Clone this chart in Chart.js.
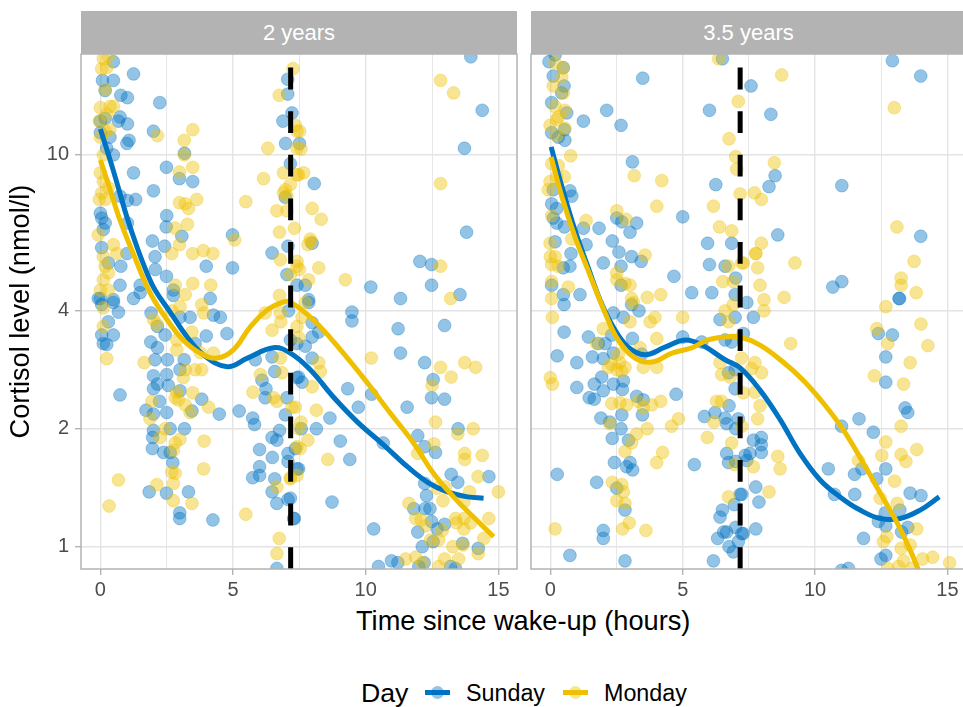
<!DOCTYPE html>
<html>
<head>
<meta charset="utf-8">
<title>Cortisol level</title>
<script src="https://cdn.jsdelivr.net/npm/chart.js@4"></script>
<style>
  html, body { margin: 0; padding: 0; background: #fff; width: 963px; height: 707px; overflow: hidden; }
  body { position: relative; font-family: "Liberation Sans", Arial, sans-serif; }
  canvas { position: absolute; top: 0; }
  .strip { position: absolute; top: 11px; height: 43px; line-height: 44px; background: #b3b3b3; color: #fff; font-size: 22px; text-align: center; }
  .txt { position: absolute; white-space: nowrap; color: #000; }
  .key-line { position: absolute; top: 690px; width: 25px; height: 5px; }
  .key-dot { position: absolute; top: 686px; width: 13px; height: 13px; border-radius: 50%; }
</style>
</head>
<body>
<canvas id="facet1" style="left:0"></canvas>
<canvas id="facet2" style="left:527px"></canvas>
<div class="strip" style="left:81px;width:436px">2 years</div>
<div class="strip" style="left:531px;width:435px">3.5 years</div>
<div class="txt" style="left:356px;top:605px;font-size:27.2px">Time since wake-up (hours)</div>
<div class="txt" style="left:361px;top:678px;font-size:26.7px">Day</div>
<div class="key-line" style="left:425px;background:#0073C2"></div>
<div class="key-dot" style="left:431px;background:rgba(0,115,194,.42)"></div>
<div class="txt" style="left:466px;top:680px;font-size:23.3px">Sunday</div>
<div class="key-line" style="left:563px;background:#EFC000"></div>
<div class="key-dot" style="left:569px;background:rgba(239,192,0,.42)"></div>
<div class="txt" style="left:604px;top:680px;font-size:23.3px">Monday</div>

<script>
// values: [hours since wake-up, cortisol nmol/l]
const yTicks = [1, 2, 4, 10];
const wakeMark = 7.17;

const sunday2y = [[.49,17.3],[1.25,16.1],[.08,15.5],[.49,15.5],[.18,14.6],[.77,14.2],[1.02,14],[2.24,13.6],[.18,12.4],[0,12.2],[.74,12.5],[.68,12.2],[1.02,12],[0,11.4],[2,11.5],[1.08,10.9],[1,10.7],[.36,11.1],[.49,10],[.24,10.4],[1.25,9],[2.49,9.3],[3.17,10.1],[2.98,8.7],[3.48,8.55],[2,8.1],[1.33,7.7],[1.02,7.65],[.74,7.85],[2.5,7],[2.48,6.55],[3.07,6.2],[0,7.1],[.05,6.9],[.11,6.45],[.18,6.7],[1.02,6.7],[1.96,6.03],[2.42,5.85],[4.98,6.25],[6.47,5.62],[7.07,5.85],[1,5.6],[2.06,5.5],[.77,5.2],[.3,5.3],[2.07,5.1],[2.49,4.9],[3.99,5.2],[4.98,5.15],[.05,5.8],[.74,4.65],[1.5,4.65],[1.5,4.45],[1.25,4.3],[0,4.3],[.49,4.27],[2.75,4.52],[2.75,4.38],[4.14,4.3],[7.06,15.6],[7.06,14.3],[7.22,12.8],[6.88,12.2],[6.98,10.7],[7.16,9.5],[6.97,7.8],[7.5,10.7],[7.03,4.95],[7.41,4.65],
  [13.96,17.8],[14.39,13],[13.72,10.4],[8.06,8.45],[13.8,6.35],[7.98,5.95],[12.04,5.35],[12.48,5.25],[10.19,4.6],[12.48,4.65],[11.31,4.3],[13.55,4.4],[7.72,4.65],[7.85,4.27],
  [-.08,4.3],[.05,4.15],[.49,4.2],[.68,3.97],[.3,3.75],[.49,3.47],[.05,3.47],[.24,3.28],[.11,3.3],[.74,2.44],[1.91,3.95],[2.15,3.65],[2.44,3.47],[1.9,3.33],[2.15,3.22],[2.06,3],[2.53,3],[3.16,3],[3.57,3.3],[3,2.83],[2,2.73],[2.5,2.75],[2.56,2.58],[2,2.53],[2.15,2.6],[2.23,2.35],[3,2.5],[3.82,2.38],[3.45,2.22],[4.48,2.18],[2.5,2.2],[1.72,2.23],[2,2.18],[2,1.98],[1.97,1.9],[2.63,2],[3.17,2],[1.96,1.78],[2.38,1.74],[2.63,1.74],[2.73,1.64],[1.84,1.38],[2.49,1.37],[3.32,1.38],[2.99,1.22],[2.99,1.18],[4.24,1.17],[3,3.85],[3.38,3.85],[4.26,3.9],[4.52,3.85],[4.77,3.5],[3.99,3.45],[5.84,3],[6.47,3.05],[6.57,2.8],[6.09,2.66],[6.24,2.53],[6.21,2.4],[5.23,2.22],[5.74,2.13],[5.81,2.05],[6.47,1.9],[6.65,1.87],[6,1.77],[6.48,1.69],[7.07,1.73],[7.07,1.65],[6,1.6],[5.74,1.5],[6,1.52],[6.57,1.49],[6.47,1.38],[6.65,1.29],[7.07,1.32],[7.31,1.18],[6.65,.88],[7.03,2.4],[6.97,2.17],[7.41,2.7],[7.41,1.58],[7.09,4],[7.16,3.37],[7.4,3.3],[6.75,1.98],
  [9.48,3.97],[9.48,3.77],[11.22,3.6],[12.97,3.67],[11.31,3.12],[12.22,2.95],[12.54,2.67],[12.48,2.4],[12.97,2.38],[9.32,2.53],[9.72,2.27],[10.22,2.45],[11.56,2.27],[8.65,2.13],[8.14,2],[7.57,2],[9.04,1.86],[9.4,1.67],[10.66,1.84],[11.96,1.92],[13.48,2],[12.22,1.8],[12.63,1.74],[13.22,1.53],[13.47,1.46],[14.64,1.51],[12.22,1.45],[12.29,1.35],[12.23,1.25],[12.42,1.25],[11.81,1.25],[8.73,1.3],[10.3,1.11],[12.48,1.16],[12.97,1.14],[11.96,1.09],[12.69,1.11],[12.13,1],[12.54,1.03],[13.65,1.02],[14.24,.99],[10.48,.89],[10.97,.92],[11.21,.91],[12.2,.91],[12,.89],[13.2,.89],[13.38,.88],[7.98,3.03],[7.98,3.43],[8.23,3.53],[7.98,3.73],[7.85,4.2],[7.47,2.71],[7.6,2.63],[7.72,3.25],[7.47,1.58],[7.35,1.78],[7.16,1.33],[7.28,1.18]];

const monday2y = [[.11,17.6],[.3,17.8],[.05,16.6],[.24,16.7],[.18,14.7],[0,13.2],[.36,13.3],[.49,13.3],[-.04,12.2],[.24,12.7],[.36,11.6],[0,11.1],[.18,11.5],[2.15,11.2],[3.16,10.9],[3.48,11.6],[3.16,10],[.11,10],[2.98,9.05],[3.48,9.3],[0,9],[.11,8.55],[.05,8],[.3,8.25],[.18,7.7],[-.04,7.7],[2.98,7.55],[3.2,7.5],[3.63,7.7],[3.32,7.3],[5.48,7.6],[6.15,8.7],[6.31,10.4],[6.74,14.2],[7.26,16.6],[6.65,7.2],[7.03,7.2],[7.31,6.5],[6.75,6.35],[6.9,9],[7.41,8.9],[7.16,8.4],[6.97,8.15],[7.03,7.85],[6.9,8],[7.35,11.9],[7.41,11.5],[7.41,10.4],[3.28,6.65],[2.82,6.5],[2.98,5.9],[2.69,5.6],[3.48,5.6],[3.88,5.7],[4.24,5.6],[5.06,6.07],[6.78,5.4],[7.41,5.35],[-.08,6.25],[.49,5.9],[.62,5.6],[.11,5.5],[.18,5.2],[.3,5],[.11,4.8],[0,4.52],[.3,4.52],[3.48,4.7],[4.16,4.65],[2.82,4.65],[3.2,4.4],[7.16,4.95],[6.75,4.38],[7.41,5.2],
  [12.82,15.5],[13.31,14.4],[7.51,11.5],[7.56,10.35],[12.82,8.45],[7.66,9],[7.47,8.9],[7.98,7.3],[8.32,6.85],[7.91,6.1],[7.94,6],[7.82,5.9],[12.82,5.2],[8.23,5.15],[9.23,4.8],[7.85,4.8],[7.5,5.1],[13.2,4.3],
  [12.5,2.58],[10.21,3.03],[12.82,2.87],[13.22,2.71],[13.73,2.95],[14.14,2.87],[12.63,2.08],[13.47,1.94],[14.05,2],[12.57,1.83],[13.73,1.73],[13.73,1.67],[14.39,1.71],[11.96,1.73],[14.23,1.51],[15,1.38],[12.69,1.41],[13,1.42],[13.91,1.38],[12.91,1.31],[13.7,1.3],[11.63,1.29],[11.88,1.18],[12.09,1.17],[12.25,1.13],[13.38,1.18],[13.42,1.15],[13.7,1.18],[13.7,1.11],[13.95,1.15],[14.64,1.18],[12.88,1.1],[14.45,1.05],[12.44,1.04],[12.75,1.04],[13.28,1],[13.67,1.01],[14.24,.96],[13.5,.93],[11.5,.93],[11.88,.94],[12.13,.91],[12.75,.89],[12.97,.93],[7.82,1.87],[8.14,2.23],[7.56,2.08],[8.57,1.67],[7.53,1.78],[7.98,2.56],[8.29,2.8],[8.23,2.95],[7.41,3.65],[7.6,3.85],[7.72,4.2],[7.47,3.42],[7.35,2.27],[7.41,1.52],[7.16,1.5],
  [.11,3.65],[.11,4.07],[.24,3.02],[1.65,2.95],[2.13,3.7],[2,3.8],[2.69,4],[3,4.1],[2.88,3.37],[3.45,3.53],[3.82,4.15],[3.89,3.95],[4.26,3.12],[3.76,3.13],[3.82,2.83],[3.57,2.83],[3.13,2.7],[2.88,3.18],[3.2,2.83],[2.88,2.48],[2.82,2.4],[2.94,2.37],[3.48,2.47],[3.2,2.3],[1.94,2.35],[3.38,2.2],[4.08,2.27],[1.87,2.12],[2.44,2],[2.25,1.9],[3,1.88],[2.82,1.84],[2.75,1.76],[3.91,1.86],[3.89,1.58],[2.69,1.55],[2.82,1.54],[2.75,1.45],[.68,1.48],[2.13,1.44],[2.75,1.31],[3.45,1.29],[.33,1.27],[5.48,1.21],[6.74,1.05],[6.65,.96],[6.21,3.95],[6.47,3.57],[6.78,3.95],[6.8,3.75],[6.78,3.03],[6.03,2.75],[5.75,2.48],[6.53,2.4],[6.65,2.35],[6.84,2.78],[7.22,2.27],[7.47,2],[7.16,1.49],[6.65,1.42],[7.41,1.8]];

const sunday35y = [[.18,18],[-.05,17.3],[.49,16.7],[.11,15.9],[.52,15],[.43,14.4],[3.49,15.7],[6.5,17.6],[.05,13.6],[2.13,13],[6.01,13],[.62,12.8],[1.25,12.2],[2.67,11.9],[.05,11.4],[.53,11.6],[.55,10.9],[.3,11.1],[3.1,9.6],[6.25,8.4],[.74,8.1],[.11,8.15],[.81,7.85],[.05,7.5],[.24,7.3],[.24,6.7],[.11,6.9],[5,6.95],[.53,6.55],[1.25,6.5],[1.84,6.5],[2.51,6.9],[2.7,6.75],[3.26,6.7],[3.01,6.35],[2.34,6.03],[1.35,5.9],[.18,6],[5.94,5.95],[6.85,5.95],[.78,5.6],[2.59,5.65],[3.07,5.5],[3.43,5.35],[2,5.3],[2.67,5.2],[.74,5.2],[.49,5.15],[6.01,5.25],[6.6,5.2],[4.67,4.9],[7,4.85],[1.12,4.4],[2.67,4.65],[5.34,4.45],[6.1,4.45],[.49,4.4],[.05,4.65],[6.98,4.4],
  [7.58,15],[8.33,12.7],[12.92,17.4],[13.99,15.9],[8.49,8.85],[8.26,8.3],[11.01,8.35],[8.59,6.25],[13.99,6.2],[10.67,4.6],[11.01,4.75],[13.17,4.3],
  [.52,4.15],[.52,3.53],[.26,3.07],[1,2.95],[1.44,3.43],[1.59,3.05],[2.07,3.3],[1.81,3.3],[2,3.02],[2.38,3.95],[2.76,3.85],[2.32,3.47],[3.1,3.4],[2.38,3.12],[3.45,3.1],[3.35,4],[3.07,4.15],[1,2.55],[1.66,2.6],[1.94,2.71],[2,2.5],[2.38,2.6],[2.72,2.52],[2.76,2.65],[1.47,2.4],[1.66,2.38],[3.26,2.42],[3.51,2.37],[3.48,2.17],[1.91,2.13],[2.7,2.17],[2.67,2],[2.25,2.08],[2.34,1.89],[2.95,1.87],[2.42,1.64],[3.01,1.64],[2.88,1.6],[3.11,1.57],[.26,1.53],[1.75,1.46],[2.51,1.41],[2.82,1.24],[2,1.1],[2,1.05],[.74,.95],[2.82,.92],[5,3.43],[5.72,3.33],[4.75,2.45],[5.44,1.62],[5.82,2.15],[6.22,2.2],[6.75,2.29],[6.6,2.13],[6.66,2.06],[7.1,2.12],[7,2],[6.98,2.53],[6.73,2.78],[6.98,2.83],[6.41,3.8],[6.98,3.85],[6.6,3.37],[6.85,3.33],[6.66,1.73],[6.73,1.64],[7,1.65],[7.17,1.36],[6.95,1.28],[6.5,1.24],[6.41,1.19],[6.66,1.09],[6.55,1.09],[6.32,1.05],[7,1.12],[7.23,1.08],[7.1,1.03],[6.75,1],[6.91,.97],[6.16,.92],[7.36,1.71],
  [7.42,4.2],[7.67,3.85],[7.29,3.5],[13.19,4.3],[12.39,3.5],[12.92,3.47],[12.67,3.05],[12.67,2.63],[13.4,2.26],[13.5,2.2],[11.66,2.12],[12.2,1.96],[11,2.03],[7.67,1.87],[7.97,1.9],[7.97,1.82],[7.97,1.74],[7.54,1.73],[7.42,1.66],[12.67,1.58],[10.5,1.58],[11.49,1.53],[11.77,1.58],[12.33,1.49],[13.59,1.37],[14,1.35],[10.73,1.36],[11.5,1.36],[7.76,1.42],[7.88,1.3],[7.23,1.36],[12.65,1.22],[13.2,1.24],[12.39,1.16],[12.67,1.13],[13.5,1.12],[13.27,1.09],[7.76,1.11],[7.29,1.08],[11.83,1.05],[12.49,.93],[12.67,.95],[11.26,.88],[11,.87]];

const monday35y = [[6.35,17.6],[.18,17.2],[.49,16.7],[.11,15],[.43,15.8],[.49,14.4],[.18,13.3],[.55,13],[.24,12.3],[-.01,11.9],[.3,12.5],[.55,11.7],[.24,11.2],[7.1,13.7],[6.75,11],[.77,9.95],[7,9.9],[7.04,9.2],[.05,9.5],[.3,9.4],[.53,8.8],[3.17,8.85],[4.21,8.6],[.24,8.8],[-.01,8.55],[-.08,8.15],[7.17,7.95],[4.02,7.4],[6.16,7.4],[2.51,7.2],[2.86,6.85],[1.35,6.8],[.05,7],[6.39,6.55],[6.85,6.4],[.81,6.1],[-.01,5.95],[3.58,5.55],[0,5.5],[.05,5.25],[.18,5.5],[.3,5.2],[6.73,5.2],[7.23,5.3],[2.51,5],[2.51,4.8],[3.01,4.65],[2.82,4.7],[.68,4.6],[.05,4.75],[.05,4.3],[3.66,4.33],[4.17,4.4],[3.07,4.3],[6.51,4.75],[6.91,4.75],
  [8.74,16],[12.99,13.2],[8.46,9.55],[7.71,8],[7.97,7.7],[13.09,6.55],[7.97,5.95],[7.76,5.6],[7.76,5.6],[9.24,5.3],[7.29,5.3],[7.83,5.15],[13.74,5.35],[13.25,4.85],[13.25,4.65],[13.82,4.45],[7.92,4.65],[8.83,4.33],[8.07,4.27],
  [8.07,4],[12.67,4.1],[14,3.7],[12.33,3.6],[12.75,3.3],[14.26,3.26],[9.08,3.3],[13.59,2.95],[12.24,2.73],[13.34,2.6],[7.73,2.95],[7.6,2.85],[7.98,2.78],[7.23,3.03],[7.29,2.47],[7.73,2.48],[7.92,2.29],[7.83,2.12],[7.23,2.03],[13.25,2.03],[12.67,1.85],[12.52,1.71],[13.25,1.72],[13.84,1.77],[13.43,1.65],[8.59,1.7],[8.68,1.58],[11.64,1.66],[7.67,1.6],[13,1.47],[8.26,1.38],[12.46,1.33],[13.1,1.29],[13.84,1.11],[12.71,1.06],[12.58,1.03],[13.25,.99],[13.59,1.01],[14.06,.93],[14.44,.94],[13.34,.92],[15.08,.91],[12.75,.88],[13.15,.89],[13.65,.88],
  [.08,3.85],[0,2.7],[.08,2.6],[5,3.85],[3.95,3.85],[3.77,3.75],[3.01,3.75],[3.14,4.2],[2,3.6],[4.02,3.4],[3.39,3.22],[4.02,2.87],[3.51,2.87],[2.57,3.1],[2.32,2.92],[2.62,2.95],[2.82,2.87],[2.51,2.83],[2.7,2.8],[2.19,2.87],[1.75,3.3],[2.32,2.32],[2.63,2.33],[2.88,2.3],[3.32,2.35],[3.51,2.26],[3.83,2.3],[4.17,2.35],[4.84,2.12],[4.58,2.03],[3.66,2],[2.25,2.06],[3.26,1.94],[3.07,1.84],[2.82,1.75],[4.24,1.74],[4.02,1.64],[5.93,1.9],[6.18,2.08],[6.28,2.35],[6.47,2.35],[6.85,1.84],[6.95,1.62],[6.41,2.95],[6.47,2.75],[6.79,2.71],[6.73,1.34],[.18,1.11],[2.34,1.46],[2.7,1.44],[2.76,1.38],[2.51,1.31],[2.82,1.29],[2.98,1.15],[2.73,1.11],[3.61,1.1],[6.6,4],[6.91,4.15],[6.73,3.75]];

// smooth trend lines, read at intervals along each curve
const sunday2yLineH = [0,.48,1,1.38,1.76,2.06,2.63,3.27,3.88,4.78,5.54,6.52,7.16,7.91,8.78,9.69,10.67,11.57,12.33,13.08,13.84,14.44];
const sunday2yLineV = [11.65,9.16,6.94,5.82,4.99,4.52,3.97,3.43,3.09,2.88,3.03,3.22,3.12,2.83,2.41,2.08,1.82,1.6,1.46,1.38,1.34,1.33];
const monday2yLineH = [0,.37,.74,1.23,1.88,2.52,3.12,3.76,4.4,5.01,5.65,6.29,6.89,7.16,8.03,9.05,10.06,10.93,11.8,12.55,13.31,14.06,14.82];
const monday2yLineV = [9.71,8.14,6.82,5.62,4.44,3.79,3.37,3.12,3.03,3.18,3.64,4.02,4.21,4.21,3.79,3.18,2.62,2.19,1.84,1.54,1.34,1.19,1.06];
const sunday35yLineH = [.03,.44,.93,1.42,1.88,2.37,2.94,3.58,4.33,5.09,5.73,6.6,7.17,7.92,8.68,9.43,10.19,10.94,11.7,12.46,13.21,13.97,14.69];
const sunday35yLineV = [10.48,8.28,6.43,5.18,4.26,3.64,3.23,3.09,3.23,3.37,3.27,3,2.86,2.51,2.11,1.73,1.48,1.34,1.24,1.18,1.18,1.24,1.34];
const monday35yLineH = [.03,.44,.93,1.42,2.07,2.56,3.2,3.84,4.6,5.35,5.96,6.6,7.17,7.92,8.79,9.55,10.3,11.06,11.81,12.46,13.1,13.59,13.89,14.15];
const monday35yLineV = [9.88,7.81,6.18,5.09,3.95,3.37,3.03,2.96,3.12,3.22,3.37,3.43,3.43,3.27,2.96,2.66,2.33,1.99,1.64,1.37,1.15,.98,.877,.8];

const BLUE = '#0073C2';
const YELLOW = '#EFC000';
const X_MIN = -0.73, X_MAX = 15.7;
const Y_MIN = 0.877, Y_MAX = 18.1;

const toXY = pts => pts.map(p => ({ x: p[0], y: p[1] }));
const zipXY = (h, v) => h.map((x, i) => ({ x, y: v[i] }));

// panel border on top of the grid
const panelBorder = {
  id: 'panelBorder',
  afterDraw(chart) {
    const a = chart.chartArea, ctx = chart.ctx;
    ctx.save();
    ctx.strokeStyle = '#b3b3b3';
    ctx.lineWidth = 1.5;
    ctx.strokeRect(a.left, a.top, a.right - a.left, a.bottom - a.top);
    ctx.restore();
  }
};

function pointSet(data, rgb, order) {
  return {
    type: 'scatter', data: toXY(data), order,
    pointRadius: 6.4, pointHoverRadius: 6.4, pointBorderWidth: 1,
    backgroundColor: `rgba(${rgb},.42)`, borderColor: `rgba(${rgb},.32)`
  };
}

function lineSet(data, color, order) {
  return {
    type: 'line', data, order, borderColor: color, borderWidth: 5,
    pointRadius: 0, tension: 0.4, fill: false
  };
}

function drawFacet(id, width, height, showY, sunday, monday, lineS, lineM) {
  const canvas = document.getElementById(id);
  canvas.width = width;
  canvas.height = height;
  new Chart(canvas, {
    type: 'scatter',
    data: {
      datasets: [
        pointSet(sunday, '0,115,194', 6),
        pointSet(monday, '239,192,0', 5),
        lineSet(lineS, BLUE, 4),
        lineSet(lineM, YELLOW, 3),
        {
          type: 'line', order: 1, borderColor: '#000', borderWidth: 5, borderDash: [21.8, 21.8],
          pointRadius: 0, data: [{ x: wakeMark, y: Y_MIN }, { x: wakeMark, y: Y_MAX }]
        }
      ]
    },
    plugins: [panelBorder],
    options: {
      responsive: false,
      animation: false,
      events: [],
      layout: { autoPadding: false, padding: { top: 54, right: 4, left: 0, bottom: 0 } },
      plugins: { legend: { display: false }, tooltip: { enabled: false } },
      scales: {
        x: {
          type: 'linear', min: X_MIN, max: X_MAX,
          border: { display: false },
          grid: {
            tickLength: 6,
            color: '#e4e4e4',
            lineWidth: c => (c.tick && c.tick.value % 5 === 0 ? 1.4 : 0.9),
            tickColor: c => (c.tick && c.tick.value % 5 === 0 ? '#b3b3b3' : 'rgba(0,0,0,0)')
          },
          ticks: {
            stepSize: 2.5, includeBounds: false, autoSkip: false, maxRotation: 0, padding: 3,
            color: '#4d4d4d', font: { family: 'Liberation Sans', size: 20 },
            callback: v => (v % 5 === 0 ? String(v) : '')
          },
          afterFit(s) { s.height = 31; }
        },
        y: {
          type: 'logarithmic', min: Y_MIN, max: Y_MAX,
          border: { display: false },
          afterBuildTicks(s) { s.ticks = yTicks.map(v => ({ value: v })); },
          grid: {
            color: '#e4e4e4', lineWidth: 1.4, tickColor: '#b3b3b3',
            tickLength: showY ? 6 : 0, drawTicks: showY
          },
          ticks: {
            display: showY, padding: 6, autoSkip: false,
            color: '#4d4d4d', font: { family: 'Liberation Sans', size: 20 },
            callback: v => String(v)
          },
          title: {
            display: showY, text: 'Cortisol level (nmol/l)', color: '#000',
            font: { family: 'Liberation Sans', size: 27.2 }, padding: { top: 5, bottom: 0 }
          },
          afterFit(s) { s.width = showY ? 81 : 4; }
        }
      }
    }
  });
}

drawFacet('facet1', 521, 600, true, sunday2y, monday2y,
  zipXY(sunday2yLineH, sunday2yLineV), zipXY(monday2yLineH, monday2yLineV));
drawFacet('facet2', 443, 600, false, sunday35y, monday35y,
  zipXY(sunday35yLineH, sunday35yLineV), zipXY(monday35yLineH, monday35yLineV));
</script>
</body>
</html>
